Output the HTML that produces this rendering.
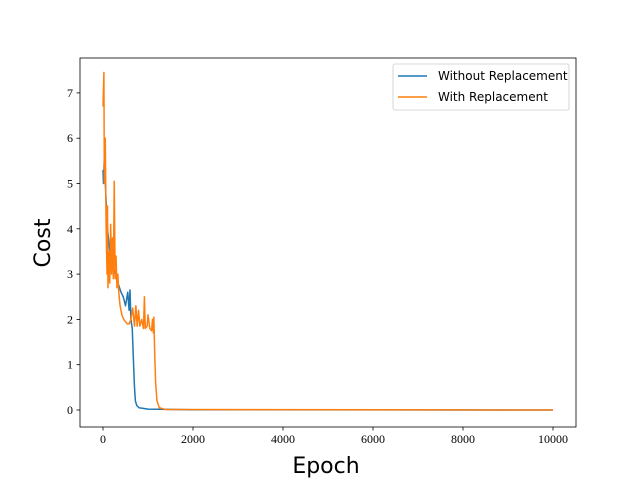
<!DOCTYPE html>
<html><head><meta charset="utf-8"><style>
html,body{margin:0;padding:0;background:#fff;}
svg text{font-family:"DejaVu Sans","Liberation Sans",sans-serif;}
svg text.tick{font-family:"Liberation Serif",serif;}
</style></head><body>
<svg width="640" height="480" xmlns="http://www.w3.org/2000/svg">
<rect width="640" height="480" fill="#fff"/>
<g id="plot"></g>
<g id="axes"></g>
</svg>
<script>
const blueEpochs=[0,10,30,60,100,150,200,300,400,450,500,550,580,600,620,650,680,700,720,750,800,1000,2000,10000];
const blueCost=[5.3,5.0,5.6,4.8,4.0,3.5,3.2,2.9,2.6,2.5,2.3,2.6,2.2,2.65,2.0,1.8,1.0,0.5,0.2,0.1,0.05,0.02,0.005,0];
const orangeEpochs=[0,20,30,50,70,90,100,110,130,150,170,190,210,230,250,270,290,310,330,350,380,420,460,500,540,580,620,660,700,730,760,790,820,860,900,920,940,980,1000,1040,1080,1100,1120,1130,1150,1170,1200,1250,1400,10000];
const orangeCost=[6.7,7.45,5.0,6.0,4.0,3.0,4.5,2.7,3.5,2.8,4.1,3.0,3.8,2.9,5.05,2.9,3.4,2.7,3.0,2.6,2.3,2.1,2.0,1.95,1.9,1.9,2.0,2.25,1.85,2.3,1.85,2.2,1.85,2.0,1.8,2.5,1.8,1.85,2.1,1.8,1.75,2.0,1.7,2.05,1.2,0.6,0.2,0.05,0.01,0];
const xTicks=[0,2000,4000,6000,8000,10000];
const yTicks=[0,1,2,3,4,5,6,7];
const L=80,R=576,T=58,B=427;
const xs=v=>103+v*0.045;
const ys=v=>410-v*45.3;
const NS='http://www.w3.org/2000/svg';
function mk(tag,attrs,parent){const e=document.createElementNS(NS,tag);for(const k in attrs)e.setAttribute(k,attrs[k]);parent.appendChild(e);return e;}
const plot=document.getElementById('plot'),axes=document.getElementById('axes');
function line(xsArr,ysArr,color,name){
  const d=xsArr.map((x,i)=>(i?'L':'M')+xs(x).toFixed(2)+','+ys(ysArr[i]).toFixed(2)).join('');
  const p=mk('path',{d:d,fill:'none',stroke:color,'stroke-width':1.5,'stroke-linejoin':'round'},plot);
  
  
}
line(blueEpochs,blueCost,'#1f77b4','series-without-replacement');
line(orangeEpochs,orangeCost,'#ff7f0e','series-with-replacement');
const frame=mk('rect',{x:L,y:T,width:R-L,height:B-T,fill:'none',stroke:'#000','stroke-width':0.8},axes);


xTicks.forEach(v=>{
  mk('line',{x1:xs(v),x2:xs(v),y1:B,y2:B+3.5,stroke:'#000','stroke-width':0.8},axes);
  const t=mk('text',{x:xs(v),y:B+16,'text-anchor':'middle','font-size':12,class:'tick'},axes);
  t.textContent=v;
  
  
});
yTicks.forEach(v=>{
  mk('line',{x1:L,x2:L-3.5,y1:ys(v),y2:ys(v),stroke:'#000','stroke-width':0.8},axes);
  const t=mk('text',{x:L-7,y:ys(v)+4,'text-anchor':'end','font-size':12,class:'tick'},axes);
  t.textContent=v;
  
  
});
const xt=mk('text',{x:326,y:473,'text-anchor':'middle','font-size':22},axes);
xt.textContent='Epoch';


const yt=mk('text',{x:50,y:243,'text-anchor':'middle','font-size':22,transform:'rotate(-90 50 243)'},axes);
yt.textContent='Cost';


const lg=mk('g',{},axes);


mk('rect',{x:393,y:64,width:176,height:46,rx:2,fill:'#fff',stroke:'#ccc','stroke-width':0.8},lg);
[['Without Replacement','#1f77b4'],['With Replacement','#ff7f0e']].forEach((e,i)=>{
  const y=76+i*21;
  mk('line',{x1:398,x2:427,y1:y,y2:y,stroke:e[1],'stroke-width':1.5},lg);
  const t=mk('text',{x:438,y:y+4,'font-size':12},lg);
  t.textContent=e[0];
  
  
});
</script>
</body></html>
